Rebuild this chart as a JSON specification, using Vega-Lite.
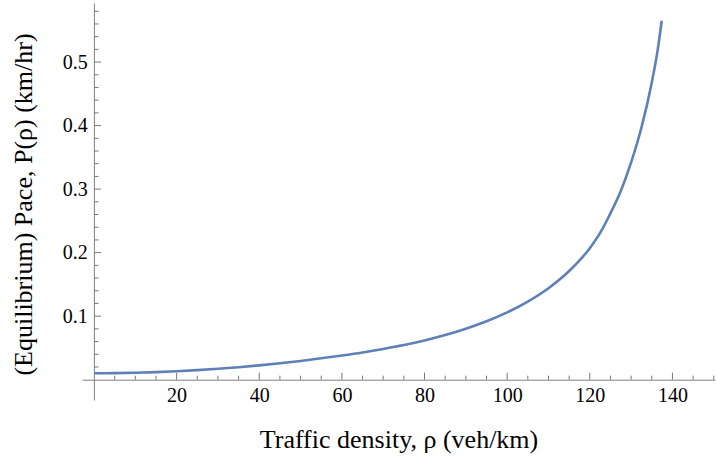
{
  "$schema": "https://vega.github.io/schema/vega-lite/v6.json",
  "width": 633,
  "height": 397,
  "autosize": {"type": "none"},
  "padding": {"left": 82, "top": 3, "right": 1, "bottom": 61},
  "background": "white",
  "config": {"view": {"stroke": null}},
  "datasets": {
    "curve": [
      {"rho": 0, "pace": 0.0100},
      {"rho": 5, "pace": 0.01025},
      {"rho": 10, "pace": 0.0109},
      {"rho": 15, "pace": 0.0119},
      {"rho": 20, "pace": 0.0133},
      {"rho": 25, "pace": 0.0150},
      {"rho": 30, "pace": 0.0171},
      {"rho": 35, "pace": 0.0196},
      {"rho": 40, "pace": 0.0225},
      {"rho": 45, "pace": 0.0258},
      {"rho": 50, "pace": 0.0295},
      {"rho": 55, "pace": 0.0336},
      {"rho": 60, "pace": 0.0380},
      {"rho": 65, "pace": 0.0428},
      {"rho": 70, "pace": 0.0483},
      {"rho": 75, "pace": 0.0545},
      {"rho": 80, "pace": 0.0618},
      {"rho": 85, "pace": 0.0703},
      {"rho": 90, "pace": 0.0803},
      {"rho": 95, "pace": 0.0920},
      {"rho": 100, "pace": 0.1060},
      {"rho": 105, "pace": 0.1230},
      {"rho": 110, "pace": 0.1440},
      {"rho": 115, "pace": 0.1710},
      {"rho": 120, "pace": 0.2070},
      {"rho": 122.5, "pace": 0.2310},
      {"rho": 125, "pace": 0.2620},
      {"rho": 127.5, "pace": 0.2970},
      {"rho": 130, "pace": 0.3420},
      {"rho": 132.5, "pace": 0.3970},
      {"rho": 135, "pace": 0.4680},
      {"rho": 136.5, "pace": 0.5220},
      {"rho": 137.4, "pace": 0.5650}
    ],
    "xmajor": [{"v": 20}, {"v": 40}, {"v": 60}, {"v": 80}, {"v": 100}, {"v": 120}, {"v": 140}],
    "xminor": [{"v": 5}, {"v": 10}, {"v": 15}, {"v": 25}, {"v": 30}, {"v": 35}, {"v": 45}, {"v": 50}, {"v": 55}, {"v": 65}, {"v": 70}, {"v": 75}, {"v": 85}, {"v": 90}, {"v": 95}, {"v": 105}, {"v": 110}, {"v": 115}, {"v": 125}, {"v": 130}, {"v": 135}, {"v": 145}, {"v": 150}],
    "ymajor": [{"v": 0.1}, {"v": 0.2}, {"v": 0.3}, {"v": 0.4}, {"v": 0.5}],
    "yminor": [{"v": 0.02}, {"v": 0.04}, {"v": 0.06}, {"v": 0.08}, {"v": 0.12}, {"v": 0.14}, {"v": 0.16}, {"v": 0.18}, {"v": 0.22}, {"v": 0.24}, {"v": 0.26}, {"v": 0.28}, {"v": 0.32}, {"v": 0.34}, {"v": 0.36}, {"v": 0.38}, {"v": 0.42}, {"v": 0.44}, {"v": 0.46}, {"v": 0.48}, {"v": 0.52}, {"v": 0.54}, {"v": 0.56}, {"v": 0.58}]
  },
  "layer": [
    {
      "data": {"name": "xmajor"},
      "mark": {"type": "rule", "color": "#777777", "strokeWidth": 1},
      "encoding": {
        "x": {"field": "v", "type": "quantitative", "scale": {"domain": [-2.9, 150.3], "nice": false, "zero": false}},
        "y": {"datum": 0, "type": "quantitative", "scale": {"domain": [-0.032, 0.593], "nice": false, "zero": false}},
        "y2": {"datum": 0.011}
      }
    },
    {
      "data": {"name": "xminor"},
      "mark": {"type": "rule", "color": "#777777", "strokeWidth": 1},
      "encoding": {
        "x": {"field": "v", "type": "quantitative"},
        "y": {"datum": 0, "type": "quantitative"},
        "y2": {"datum": 0.0063}
      }
    },
    {
      "data": {"name": "ymajor"},
      "mark": {"type": "rule", "color": "#777777", "strokeWidth": 1},
      "encoding": {
        "y": {"field": "v", "type": "quantitative"},
        "x": {"datum": 0, "type": "quantitative"},
        "x2": {"datum": 1.69}
      }
    },
    {
      "data": {"name": "yminor"},
      "mark": {"type": "rule", "color": "#777777", "strokeWidth": 1},
      "encoding": {
        "y": {"field": "v", "type": "quantitative"},
        "x": {"datum": 0, "type": "quantitative"},
        "x2": {"datum": 1.09}
      }
    },
    {
      "data": {"name": "curve"},
      "mark": {"type": "line", "color": "#5E81B5", "strokeWidth": 2.6, "interpolate": "monotone", "clip": true},
      "encoding": {
        "x": {
          "field": "rho",
          "type": "quantitative",
          "axis": {
            "orient": "bottom",
            "offset": -20.3,
            "values": [20,40,60,80,100,120,140],
            "ticks": false,
            "domainColor": "#808080",
            "domainWidth": 1,
            "grid": false,
            "labelFont": "Liberation Serif",
            "labelFontSize": 20,
            "labelColor": "#000000",
            "labelPadding": 6,
            "labelFlush": false,
            "labelOverlap": false,
            "title": "Traffic density, ρ (veh/km)",
            "titleFont": "Liberation Serif",
            "titleFontSize": 26,
            "titleFontWeight": "normal",
            "titleColor": "#000000",
            "titleBaseline": "alphabetic",
            "titleY": 68
          }
        },
        "y": {
          "field": "pace",
          "type": "quantitative",
          "axis": {
            "orient": "left",
            "offset": -11.9,
            "values": [0.1,0.2,0.3,0.4,0.5],
            "format": ".1f",
            "ticks": false,
            "domainColor": "#808080",
            "domainWidth": 1,
            "grid": false,
            "labelFont": "Liberation Serif",
            "labelFontSize": 20,
            "labelColor": "#000000",
            "labelPadding": 6.6,
            "labelFlush": false,
            "labelOverlap": false,
            "title": "(Equilibrium) Pace, P(ρ) (km/hr)",
            "titleFont": "Liberation Serif",
            "titleFontSize": 26,
            "titleFontWeight": "normal",
            "titleColor": "#000000",
            "titleBaseline": "alphabetic",
            "titleX": -62,
            "titleY": 201
          }
        }
      }
    }
  ]
}
